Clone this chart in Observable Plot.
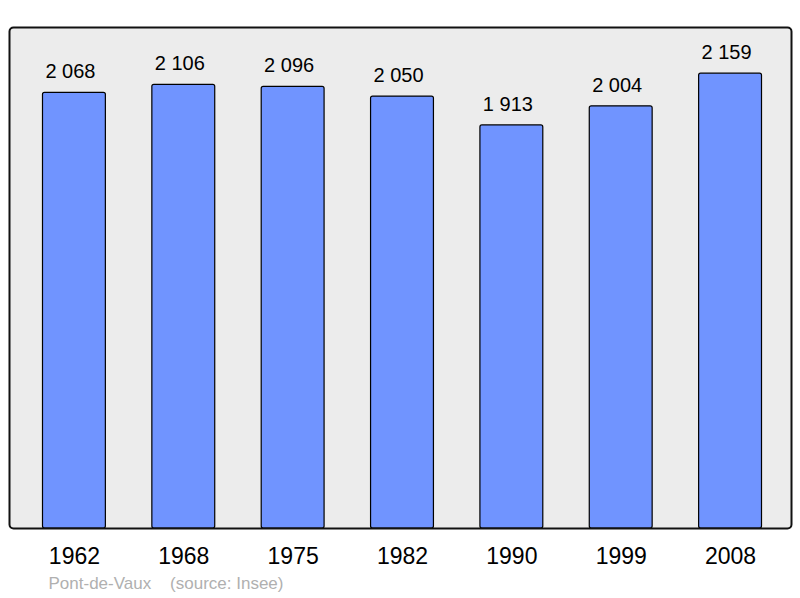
<!DOCTYPE html>
<html>
<head>
<meta charset="utf-8">
<script src="https://cdn.jsdelivr.net/npm/d3@7"></script>
<script src="https://cdn.jsdelivr.net/npm/@observablehq/plot@0.6"></script>
<style>
  html, body { margin: 0; padding: 0; background: #ffffff; }
  #chart svg { display: block; }
</style>
</head>
<body>
<div id="chart"></div>
<script>
const years = ["1962", "1968", "1975", "1982", "1990", "1999", "2008"];
const population = [2068, 2106, 2096, 2050, 1913, 2004, 2159];
const caption = "Pont-de-Vaux    (source: Insee)";

const data = years.map((y, i) => ({year: y, value: population[i]}));
const fmt = v => String(v).replace(/\B(?=(\d{3})+(?!\d))/g, " ");

const chart = Plot.plot({
  width: 800,
  height: 598,
  marginLeft: 9,
  marginRight: 9,
  marginTop: 27,
  marginBottom: 70,
  style: {fontFamily: "'Liberation Sans', Arial, sans-serif", background: "white"},
  x: {domain: years, range: [11, 793], paddingInner: 0.425, paddingOuter: 0.288, round: false, axis: null},
  y: {domain: [0, 2378], axis: null},
  marks: [
    Plot.frame({fill: "#ececec", stroke: "none"}),
    Plot.barY(data, {x: "year", y: "value", fill: "#7094ff", stroke: "black", strokeWidth: 1.2, rx: 2}),
    Plot.frame({stroke: "#111", strokeWidth: 2, rx: 4}),
    Plot.text(data, {x: "year", y: "value", text: d => fmt(d.value), dx: -4, dy: -21, fontSize: 20, fill: "black"}),
    Plot.text(data, {x: "year", y: 0, text: "year", dy: 28, fontSize: 23, fill: "black"}),
    Plot.text([caption], {text: d => d, frameAnchor: "bottom-left", dx: 39, dy: 60, textAnchor: "start", fontSize: 17, fill: "#b0b0b0", style: "white-space: pre"})
  ]
});
document.getElementById("chart").appendChild(chart);
</script>
</body>
</html>
